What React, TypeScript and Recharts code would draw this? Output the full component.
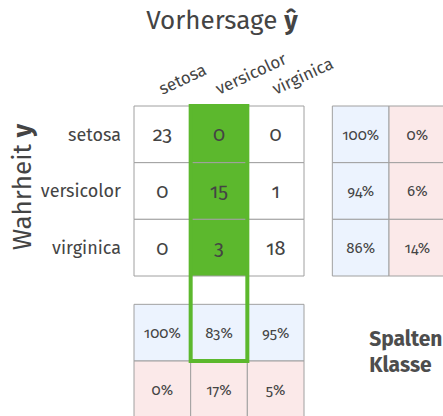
import { ScatterChart, Scatter, XAxis, YAxis, ReferenceArea } from "recharts";

// confusion matrix values (iris, test split)
const classes = ["setosa", "versicolor", "virginica"];
const counts = [
  [23, 0, 0],
  [0, 15, 1],
  [0, 3, 18],
];
// row-wise share: correct / wrong
const rowRates = [
  [100, 0],
  [94, 6],
  [86, 14],
];
// column-wise share: correct / wrong
const colRates = [
  [100, 83, 95],
  [0, 17, 5],
];
const highlightCol = 1;
const noteLines = ["Spalten pro", "Klasse"];

const W = 443;
const H = 416;
const LEFT = 134;
const TOP = 106;
const U = 170 / 3; // one cell in px
const X_MAX = (W - LEFT) / U;
const Y_MAX = (H - TOP) / U;
const GAP = 0.5;

const TEXT = "#444";
const GRID = "#a0a0a0";
const GREEN = "#5cb82d";
const BLUE = "#ecf3fe";
const RED = "#fbe9e9";

type Cell = { x1: number; x2: number; y1: number; y2: number; fill: string };
type Txt = { x: number; y: number; label: string; size: number; anchor?: string; bold?: boolean };

const cells: Cell[] = [];
const texts: Txt[] = [];

counts.forEach((row, r) =>
  row.forEach((v, c) => {
    cells.push({ x1: c, x2: c + 1, y1: r, y2: r + 1, fill: c === highlightCol ? GREEN : "#fff" });
    texts.push({ x: c + 0.5, y: r + 0.5, label: String(v), size: 20 });
  })
);
rowRates.forEach((row, r) =>
  row.forEach((v, j) => {
    const x1 = 3 + GAP + j;
    cells.push({ x1, x2: x1 + 1, y1: r, y2: r + 1, fill: j === 0 ? BLUE : RED });
    texts.push({ x: x1 + 0.5, y: r + 0.5, label: `${v}%`, size: 15 });
  })
);
colRates.forEach((row, k) =>
  row.forEach((v, c) => {
    const y1 = 3 + GAP + k;
    cells.push({ x1: c, x2: c + 1, y1, y2: y1 + 1, fill: k === 0 ? BLUE : RED });
    texts.push({ x: c + 0.5, y: y1 + 0.5, label: `${v}%`, size: 15 });
  })
);
noteLines.forEach((l, i) =>
  texts.push({ x: 4.15, y: 4.1 + i * 0.46, label: l, size: 21, anchor: "start", bold: true })
);

const ColTick = (props: any) => {
  const { x, y, payload } = props;
  return (
    <text
      transform={`translate(${x},${y - 9}) rotate(-25)`}
      textAnchor="start"
      fill={TEXT}
      fontSize={17}
    >
      {classes[Math.floor(payload.value)]}
    </text>
  );
};

const Title = (props: any) => {
  const vb = props.viewBox;
  const cx = vb.x + (1.5 * vb.width) / X_MAX + 3;
  return (
    <text x={cx} y={29} textAnchor="middle" fill={TEXT} fontSize={26}>
      Vorhersage <tspan fontWeight="bold">ŷ</tspan>
    </text>
  );
};

const SideTitle = (props: any) => {
  const vb = props.viewBox;
  const cy = vb.y + (1.5 * vb.height) / Y_MAX - 4;
  return (
    <text transform={`translate(31,${cy}) rotate(-90)`} textAnchor="middle" fill={TEXT} fontSize={26}>
      Wahrheit <tspan fontWeight="bold">y</tspan>
    </text>
  );
};

const CellText = (p: any) => {
  const d = p.payload as Txt;
  return (
    <text
      x={p.cx}
      y={p.cy}
      dy="0.35em"
      textAnchor={d.anchor ?? "middle"}
      fill={d.bold ? "#4d4d4d" : TEXT}
      fontSize={d.size}
      fontWeight={d.bold ? "bold" : "normal"}
      style={{ fontVariantNumeric: "oldstyle-nums" }}
    >
      {d.label}
    </text>
  );
};

export default function App() {
  return (
    <div
      style={{
        position: "fixed",
        left: 0,
        top: 0,
        width: W,
        height: H,
        background: "#fff",
        fontFamily: "'Fira Sans', 'Open Sans', sans-serif",
      }}
    >
      <ScatterChart width={W} height={H} margin={{ top: 0, right: 0, bottom: 0, left: 0 }}>
        <XAxis
          type="number"
          dataKey="x"
          domain={[0, X_MAX]}
          allowDataOverflow
          orientation="top"
          height={TOP}
          ticks={[0.5, 1.5, 2.5]}
          interval={0}
          tick={<ColTick />}
          tickSize={0}
          axisLine={false}
          tickLine={false}
          label={{ content: Title }}
        />
        <YAxis
          type="number"
          dataKey="y"
          domain={[0, Y_MAX]}
          allowDataOverflow
          reversed
          width={LEFT}
          ticks={[0.5, 1.5, 2.5]}
          interval={0}
          tickFormatter={(v: number) => classes[Math.floor(v)]}
          tick={{ fill: TEXT, fontSize: 18 }}
          tickSize={0}
          tickMargin={13}
          axisLine={false}
          tickLine={false}
          label={{ content: SideTitle }}
        />
        {cells.map((c, i) => (
          <ReferenceArea
            key={i}
            x1={c.x1}
            x2={c.x2}
            y1={c.y1}
            y2={c.y2}
            fill={c.fill}
            fillOpacity={1}
            stroke={GRID}
            strokeWidth={1}
            ifOverflow="visible"
          />
        ))}
        <ReferenceArea
          x1={highlightCol}
          x2={highlightCol + 1}
          y1={0}
          y2={4 + GAP}
          fill="none"
          fillOpacity={0}
          stroke={GREEN}
          strokeWidth={4}
          ifOverflow="visible"
        />
        <Scatter data={texts} dataKey="y" shape={CellText} isAnimationActive={false} />
      </ScatterChart>
    </div>
  );
}
